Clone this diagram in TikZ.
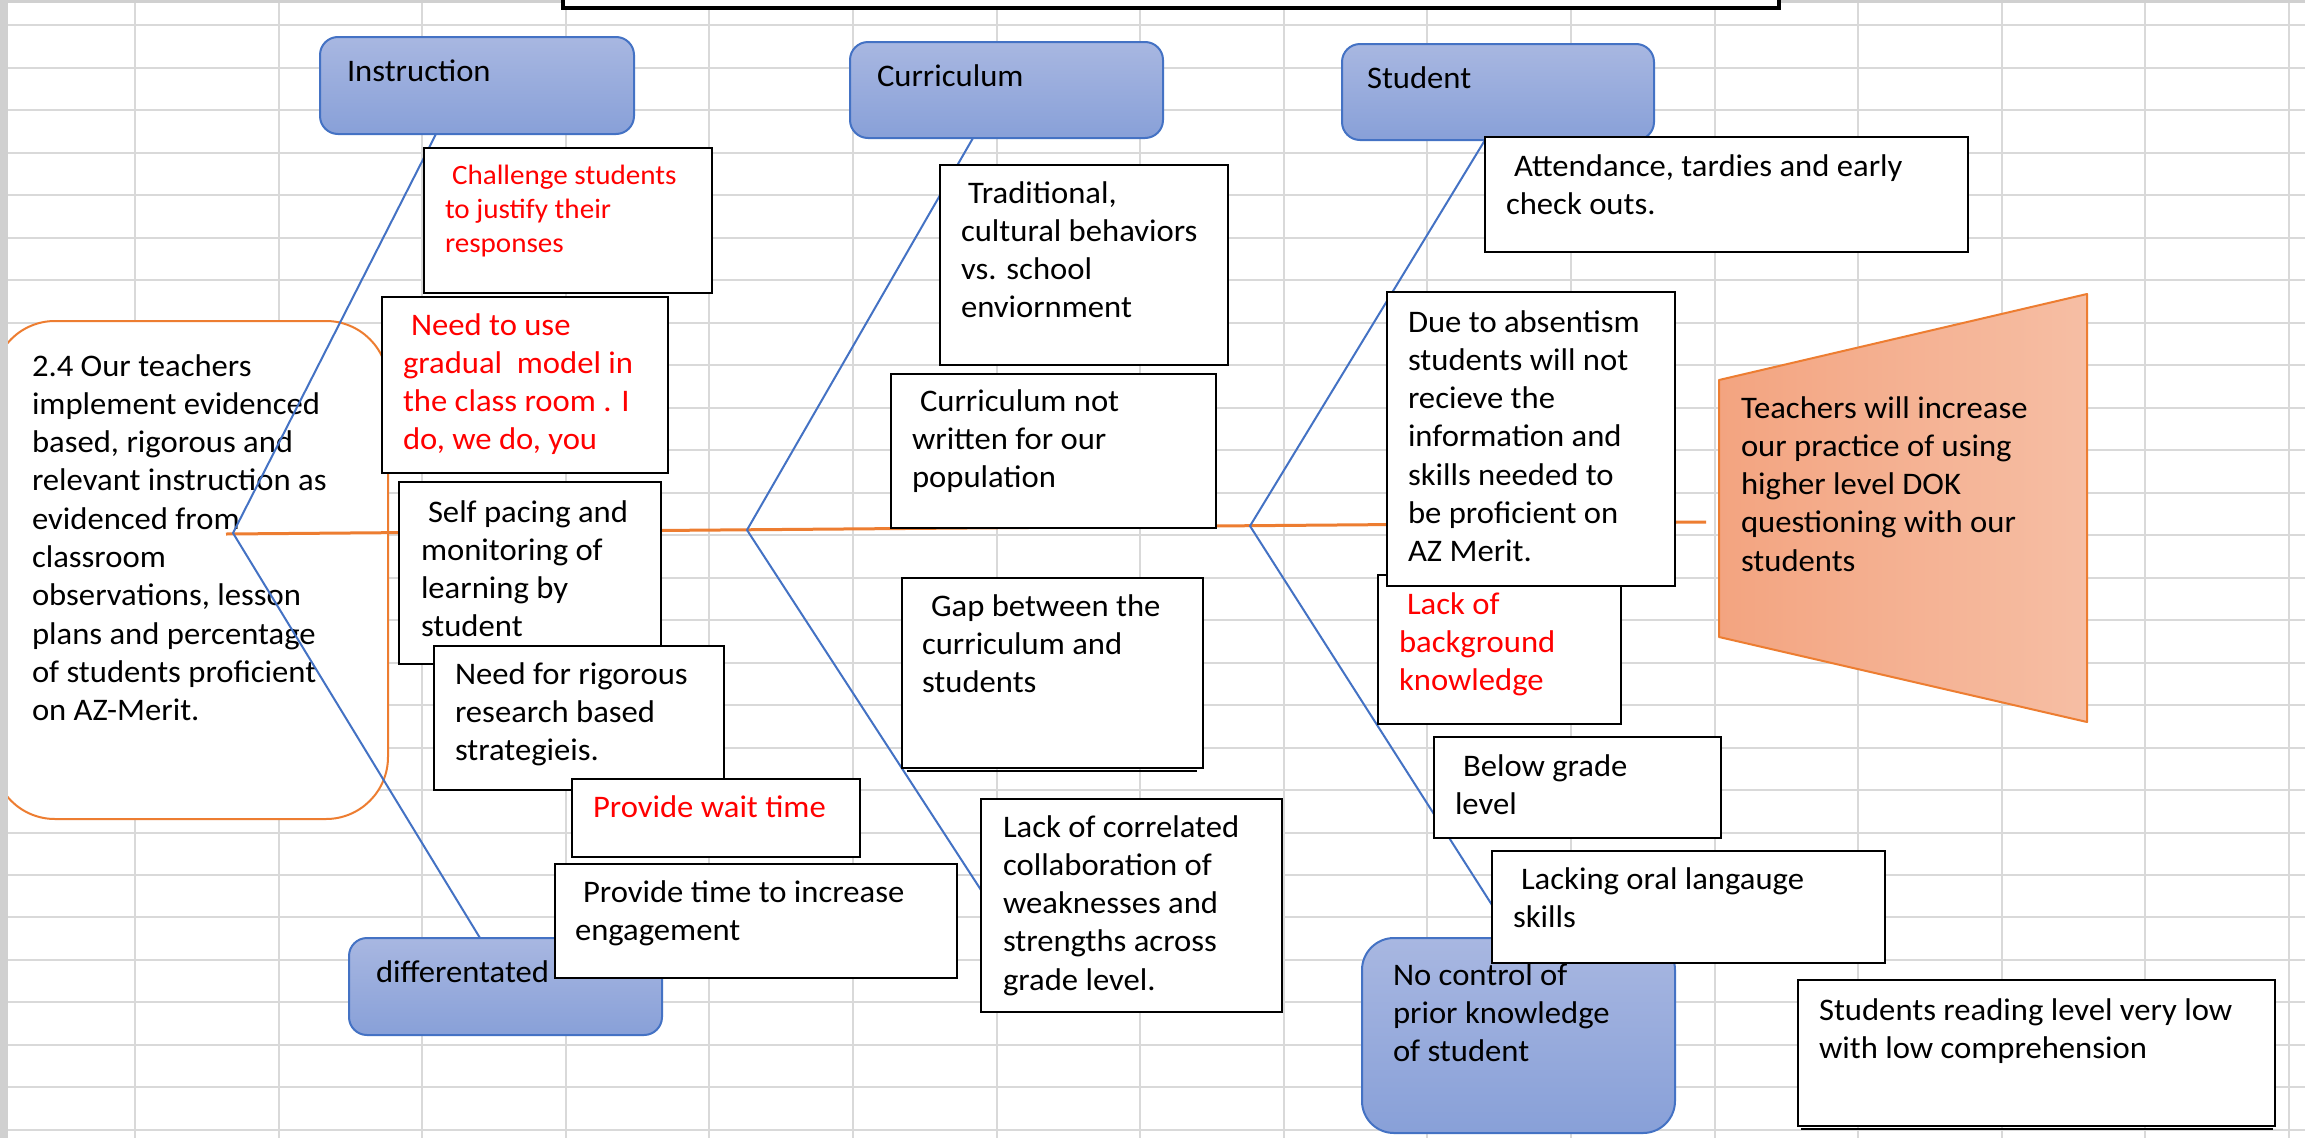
\documentclass[tikz,border=0pt]{standalone}
\usepackage{fontspec}
\setmainfont{Carlito}[FakeStretch=1.04]
\usetikzlibrary{calc}

\definecolor{gridgray}{RGB}{217,217,217}
\definecolor{bordergray}{RGB}{208,208,208}
\definecolor{catblue}{RGB}{68,114,196}
\definecolor{cattop}{RGB}{168,183,225}
\definecolor{catbot}{RGB}{136,160,216}
\definecolor{spineorange}{RGB}{237,125,49}
\definecolor{trapleft}{RGB}{243,164,128}
\definecolor{trapright}{RGB}{246,190,164}
\definecolor{causered}{RGB}{255,0,0}

\newcommand{\bodyfont}{\fontsize{31.4pt}{38.3pt}\selectfont}
\newcommand{\smallredfont}{\fontsize{28pt}{34pt}\selectfont}
\newcommand{\boxlines}[1]{\parbox[t]{700pt}{\raggedright #1}}

\pgfdeclarelayer{gridlayer}
\pgfdeclarelayer{underlayer}
\pgfdeclarelayer{bonelayer}
\pgfsetlayers{gridlayer,underlayer,bonelayer,main}

\tikzset{
  causebox/.style={draw=black, line width=2.5pt, fill=white, inner sep=0pt,
    outer sep=0pt, anchor=north west},
  catbox/.style={draw=catblue, line width=2pt, top color=cattop, bottom color=catbot,
    rounded corners=18pt, inner sep=0pt, outer sep=0pt, anchor=north west},
  bone/.style={draw=catblue, line width=2pt},
  spine/.style={draw=spineorange, line width=3pt},
  txt/.style={inner sep=0pt, outer sep=0pt, anchor=base west, font=\bodyfont},
  redtxt/.style={txt, text=causered},
}

\begin{document}
\begin{tikzpicture}[x=1pt, y=-1pt]
\useasboundingbox (0,0) rectangle (2305,1138);

% spreadsheet grid
\begin{pgfonlayer}{gridlayer}
  \fill[white] (0,0) rectangle (2305,1138);
  \foreach \i in {0,...,15}
    \draw[gridgray, line width=2pt] ({135+143.6*\i},0) -- ({135+143.6*\i},1138);
  \foreach \j in {0,...,26}
    \draw[gridgray, line width=2pt] (0,{25.4+42.48*\j}) -- (2305,{25.4+42.48*\j});
\end{pgfonlayer}

% problem statement (head of the fish)
\begin{pgfonlayer}{underlayer}
  \node[draw=spineorange, line width=2pt, fill=white, rounded corners=62pt,
        inner sep=0pt, outer sep=0pt, anchor=north west,
        minimum width=395pt, minimum height=498pt] (goal) at (-7,321) {};
  \node[txt] (goaltext) at (32,376) {\boxlines{2.4 Our teachers\\implement evidenced\\based, rigorous and\\relevant instruction as\\evidenced from\\classroom\\observations, lesson\\plans and percentage\\of students proficient\\on AZ-Merit.}};
\end{pgfonlayer}

% category boxes
\node[catbox, minimum width=314pt, minimum height=97pt] (instr) at (320,37) {};
\node[txt] (instrtext) at (347,81) {Instruction};
\node[catbox, minimum width=313pt, minimum height=96pt] (curr) at (850,42) {};
\node[txt] (currtext) at (877,86) {Curriculum};
\node[catbox, minimum width=312pt, minimum height=96pt] (stud) at (1342,44) {};
\node[txt] (studtext) at (1367,88) {Student};
\node[catbox, minimum width=313pt, minimum height=97pt] (diff) at (349,938) {};
\node[txt] (difftext) at (376,982) {differentated};
\node[catbox, rounded corners=32pt, minimum width=313pt, minimum height=195pt] (noctrl) at (1362,938) {};
\node[txt] (noctrltext) at (1393,985) {\boxlines{No control of\\prior knowledge\\of student}};

% instruction causes
\node[causebox, minimum width=288pt, minimum height=145pt] (b1) at (424,148) {};
\node[redtxt, font=\smallredfont] (b1text) at (445,184) {\boxlines{\hspace*{7pt}Challenge students\\to justify their\\responses}};
\node[causebox, minimum width=286pt, minimum height=176pt] (b2) at (382,297) {};
\node[redtxt] (b2text) at (403,335) {\boxlines{\hspace*{8pt}Need to use\\gradual\ \ model in\\the class room . I\\do, we do, you}};
\node[causebox, minimum width=262pt, minimum height=182pt] (b3) at (399,482) {};
\node[txt] (b3text) at (421,522) {\boxlines{\hspace*{7pt}Self pacing and\\monitoring of\\learning by\\student}};
\node[causebox, minimum width=290pt, minimum height=144pt] (b4) at (434,646) {};
\node[txt] (b4text) at (455,684) {\boxlines{Need for rigorous\\research based\\strategieis.}};
\node[causebox, minimum width=288pt, minimum height=78pt] (b5) at (572,779) {};
\node[redtxt] (b5text) at (593,817) {Provide wait time};
\node[causebox, minimum width=402pt, minimum height=114pt] (b6) at (555,864) {};
\node[txt] (b6text) at (575,902) {\boxlines{\hspace*{8pt}Provide time to increase\\engagement}};

% curriculum causes
\node[causebox, minimum width=288pt, minimum height=200pt] (c1) at (940,165) {};
\node[txt] (c1text) at (961,203) {\boxlines{\hspace*{7pt}Traditional,\\cultural behaviors\\vs. school\\enviornment}};
\node[causebox, minimum width=325pt, minimum height=154pt] (c2) at (891,374) {};
\node[txt] (c2text) at (912,411) {\boxlines{\hspace*{8pt}Curriculum not\\written for our\\population}};
\node[causebox, minimum width=301pt, minimum height=190pt] (c3) at (902,578) {};
\draw[black, line width=2pt] ($(c3.south west)+(5,3)$) -- ($(c3.south east)+(-6,3)$);
\node[txt] (c3text) at (922,616) {\boxlines{\hspace*{9pt}Gap between the\\curriculum and\\students}};
\node[causebox, minimum width=301pt, minimum height=213pt] (c4) at (981,799) {};
\node[txt] (c4text) at (1003,837) {\boxlines{Lack of correlated\\collaboration of\\weaknesses and\\strengths across\\grade level.}};

% student causes
\node[causebox, minimum width=483pt, minimum height=115pt] (s1) at (1485,137) {};
\node[txt] (s1text) at (1506,176) {\boxlines{\hspace*{8pt}Attendance, tardies and early\\check outs.}};
\node[causebox, minimum width=243pt, minimum height=149pt] (s3) at (1378,575) {};
\node[redtxt] (s3text) at (1399,614) {\boxlines{\hspace*{8pt}Lack of\\background\\knowledge}};
\node[causebox, minimum width=288pt, minimum height=294pt] (s2) at (1387,292) {};
\node[txt] (s2text) at (1408,332) {\boxlines{Due to absentism\\students will not\\recieve the\\information and\\skills needed to\\be proficient on\\AZ Merit.}};
\node[causebox, minimum width=287pt, minimum height=101pt] (s4) at (1434,737) {};
\node[txt] (s4text) at (1455,776) {\boxlines{\hspace*{8pt}Below grade\\level}};
\node[causebox, minimum width=393pt, minimum height=112pt] (s5) at (1492,851) {};
\node[txt] (s5text) at (1513,889) {\boxlines{\hspace*{8pt}Lacking oral langauge\\skills}};
\node[causebox, minimum width=477pt, minimum height=146pt] (s6) at (1798,980) {};
\draw[black, line width=2pt] ($(s6.south west)+(3,3)$) -- ($(s6.south east)+(-2,3)$);
\node[txt] (s6text) at (1819,1020) {\boxlines{Students reading level very low\\with low comprehension}};

% outcome (trapezoid)
\coordinate (tTL) at (1719,380);
\coordinate (tTR) at (2087,294);
\coordinate (tBR) at (2087,722);
\coordinate (tBL) at (1719,637);
\draw[draw=spineorange, line width=2pt, line join=round,
      left color=trapleft, right color=trapright]
  (tTL) -- (tTR) -- (tBR) -- (tBL) -- cycle;
\node[txt] (traptext) at (1741,418) {\boxlines{Teachers will increase\\our practice of using\\higher level DOK\\questioning with our\\students}};

% spine and bones
\coordinate (spineL) at (226,534);
\coordinate (spineR) at (1706,522);
\coordinate (j1) at (233,533);
\coordinate (j2) at (747,530);
\coordinate (j3) at (1250,526);
\begin{pgfonlayer}{bonelayer}
  \draw[spine] (spineL) -- (spineR);
  \draw[bone] ($(instr.south west)+(116,0)$) -- (j1) -- ($(diff.north west)+(131,0)$);
  \draw[bone] ($(curr.south west)+(123,0)$) -- (j2) -- ($(c4.north west)+(0,91)$);
  \draw[bone] ($(stud.south west)+(143,0)$) -- (j3) -- ($(s5.north west)+(0,54)$);
\end{pgfonlayer}

% title box running off the top edge
\node[draw=black, line width=4pt, fill=white, inner sep=0pt, outer sep=0pt,
      anchor=south west, minimum width=1216pt, minimum height=60pt] (titlebox) at (563,8) {};

% window frame
\fill[bordergray] (0,0) rectangle (8,1138);
\fill[bordergray] (0,0) rectangle (561,3);
\fill[bordergray] (1781,0) rectangle (2305,3);
\end{tikzpicture}
\end{document}
